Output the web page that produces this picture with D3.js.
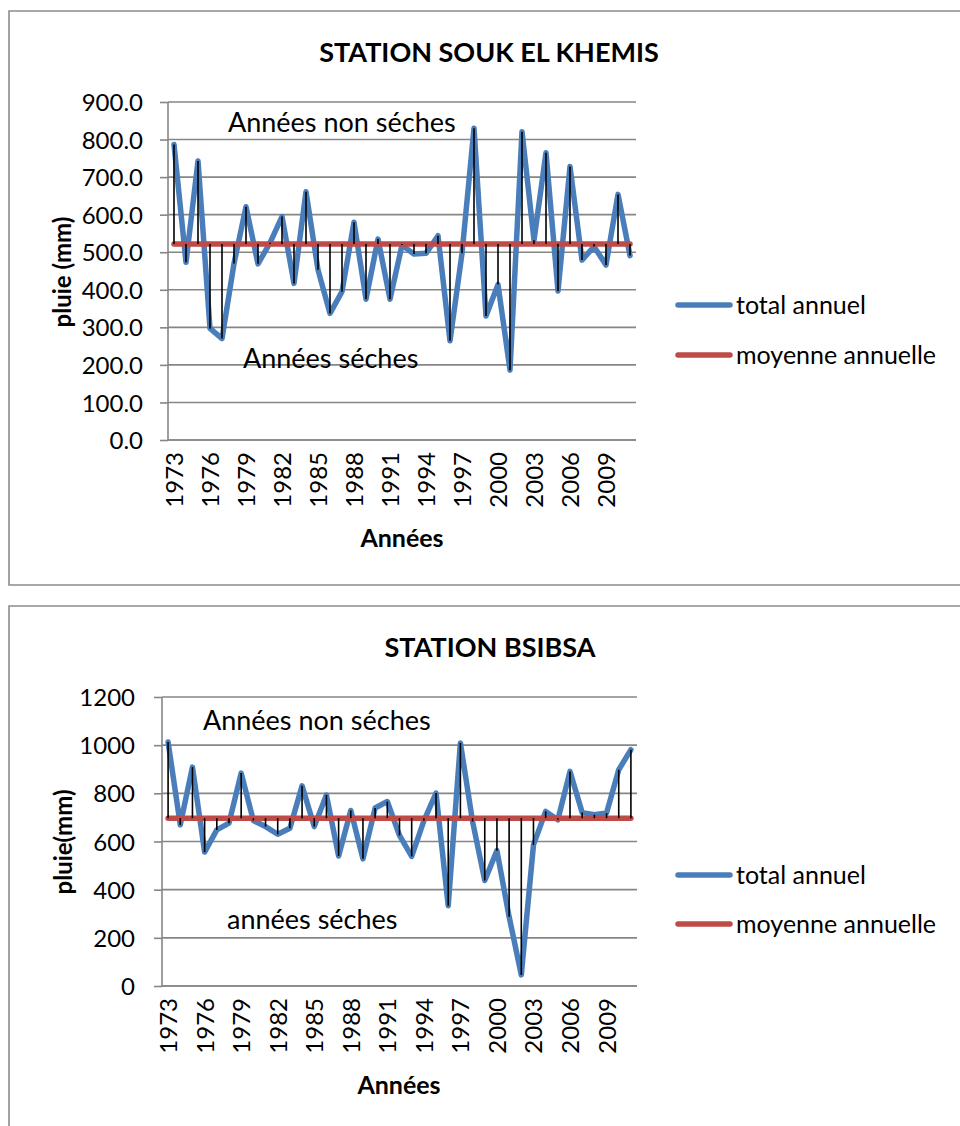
<!DOCTYPE html>
<html>
<head>
<meta charset="utf-8">
<script src="https://cdn.jsdelivr.net/npm/d3@7"></script>
<style>
  html, body { margin: 0; padding: 0; background: #fff; }
  svg { display: block; font-family: Lato, "Open Sans", sans-serif; }
</style>
</head>
<body>
<svg id="chart" width="960" height="1126"></svg>
<script>
// Years of record (hydrological years)
const years = [1973, 1974, 1975, 1976, 1977, 1978, 1979, 1980, 1981, 1982,
  1983, 1984, 1985, 1986, 1987, 1988, 1989, 1990, 1991, 1992,
  1993, 1994, 1995, 1996, 1997, 1998, 1999, 2000, 2001, 2002,
  2003, 2004, 2005, 2006, 2007, 2008, 2009, 2010, 2011];

// Years shown as axis labels
const yearTicks = [1973, 1976, 1979, 1982, 1985, 1988, 1991, 1994, 1997, 2000, 2003, 2006, 2009];

// Station Souk El Khemis: annual rainfall (mm) and mean
const soukTotal = [787, 473, 743, 297, 270, 470, 621, 469, 525, 595,
  417, 661, 453, 337, 395, 580, 375, 535, 375, 519,
  495, 497, 544, 264, 497, 830, 330, 414, 186, 821,
  532, 765, 397, 728, 479, 515, 466, 654, 491];
const soukMean = 522;
const soukTicks = [0, 100, 200, 300, 400, 500, 600, 700, 800, 900];

// Station Bsibsa: annual rainfall (mm) and mean
const bsibsaTotal = [1013, 669, 909, 556, 648, 676, 884, 687, 662, 630,
  655, 831, 662, 793, 540, 729, 528, 739, 766, 625,
  538, 686, 801, 333, 1009, 683, 438, 562, 288, 46,
  586, 725, 690, 891, 720, 711, 718, 898, 981];
const bsibsaMean = 697;
const bsibsaTicks = [0, 200, 400, 600, 800, 1000, 1200];

const seriesNames = ["total annuel", "moyenne annuelle"];

const BLUE = "#4A7EBB";
const RED = "#BE4B48";
const GRID = "#868686";
const FONT = "Lato, 'Open Sans', sans-serif";

const svg = d3.select("#chart");

function drawPanel(cfg) {
  const g = svg.append("g");

  // panel frame (open on the right)
  g.append("path")
    .attr("d", `M960,${cfg.frameTop}H${cfg.frameLeft}V${cfg.frameBottom}H960`)
    .attr("fill", "none").attr("stroke", "#8c8c8c").attr("stroke-width", 1.6);

  const x = d3.scaleBand().domain(years).range([cfg.left, cfg.right]).padding(0);
  const cx = d => x(d) + x.bandwidth() / 2;
  const y = d3.scaleLinear().domain([0, cfg.max]).range([cfg.bottom, cfg.top]);

  // horizontal gridlines
  g.append("g").selectAll("line").data(cfg.ticks).join("line")
    .attr("x1", cfg.left).attr("x2", cfg.right)
    .attr("y1", d => y(d)).attr("y2", d => y(d))
    .attr("stroke", GRID).attr("stroke-width", 1.6);

  // y axis
  const yAxis = d3.axisLeft(y).tickValues(cfg.ticks).tickFormat(cfg.fmt)
    .tickSize(8).tickPadding(cfg.yPad);
  const ya = g.append("g").attr("transform", `translate(${cfg.left},0)`).call(yAxis);
  ya.attr("font-family", FONT).attr("font-size", 24);
  ya.select(".domain").attr("stroke", GRID).attr("stroke-width", 1.6)
    .attr("d", `M0,${cfg.top}V${cfg.bottom}`);
  ya.selectAll(".tick line").attr("stroke", GRID).attr("stroke-width", 1.6);
  ya.selectAll(".tick text").attr("fill", "#000").attr("dy", "0.36em");

  // x axis
  const xAxis = d3.axisBottom(x).tickValues(yearTicks).tickSize(0).tickPadding(0);
  const xa = g.append("g").attr("transform", `translate(0,${cfg.bottom})`).call(xAxis);
  xa.attr("font-family", FONT).attr("font-size", 24);
  xa.select(".domain").attr("stroke", GRID).attr("stroke-width", 1.6)
    .attr("d", `M${cfg.left},0H${cfg.right}`);
  xa.selectAll(".tick text")
    .attr("fill", "#000")
    .attr("text-anchor", "end").attr("dy", null).attr("y", 0)
    .attr("transform", "translate(9,12) rotate(-90)");

  // annual total line
  const line = d3.line().x((d, i) => cx(years[i])).y(d => y(d));
  g.append("path").datum(cfg.total)
    .attr("d", line).attr("fill", "none")
    .attr("stroke", BLUE).attr("stroke-width", 5.5)
    .attr("stroke-linejoin", "round").attr("stroke-linecap", "round");

  // mean line
  g.append("path").datum(years.map(() => cfg.mean))
    .attr("d", line).attr("fill", "none")
    .attr("stroke", RED).attr("stroke-width", 5.5).attr("stroke-linecap", "round");

  // deviation drops between total and mean
  g.append("g").selectAll("line").data(cfg.total).join("line")
    .attr("x1", (d, i) => cx(years[i])).attr("x2", (d, i) => cx(years[i]))
    .attr("y1", d => y(d)).attr("y2", y(cfg.mean))
    .attr("stroke", "#000").attr("stroke-width", 1.6);

  const text = (sel) => sel.attr("font-family", FONT).attr("fill", "#000");

  // titles
  g.append("text").call(text).attr("x", cfg.titleX).attr("y", cfg.titleY)
    .attr("text-anchor", "middle").attr("font-weight", "bold").attr("font-size", 27)
    .text(cfg.title);
  g.append("text").call(text)
    .attr("transform", `translate(${cfg.yTitleX},${cfg.yTitleY}) rotate(-90)`)
    .attr("text-anchor", "middle").attr("font-weight", "bold").attr("font-size", 24)
    .text(cfg.yTitle);
  g.append("text").call(text).attr("x", cfg.xTitleX).attr("y", cfg.xTitleY)
    .attr("text-anchor", "middle").attr("font-weight", "bold").attr("font-size", 25)
    .text("Années");

  // annotations
  cfg.notes.forEach(n => {
    g.append("text").call(text).attr("x", n.x).attr("y", n.y)
      .attr("font-size", 27).text(n.text);
  });

  // legend
  [BLUE, RED].forEach((c, i) => {
    const ly = cfg.legendY + i * cfg.legendGap;
    g.append("line").attr("x1", 678).attr("x2", 730).attr("y1", ly).attr("y2", ly)
      .attr("stroke", c).attr("stroke-width", 5.5).attr("stroke-linecap", "round");
    g.append("text").call(text).attr("x", 736).attr("y", ly + 9).attr("font-size", 25)
      .text(seriesNames[i]);
  });
}

drawPanel({
  frameTop: 11, frameLeft: 9, frameBottom: 585,
  left: 168, right: 636, top: 102, bottom: 440, yPad: 17,
  max: 900, ticks: soukTicks, fmt: d3.format(".1f"),
  total: soukTotal, mean: soukMean,
  title: "STATION SOUK EL KHEMIS", titleX: 489, titleY: 62,
  yTitle: "pluie (mm)", yTitleX: 71, yTitleY: 272, xTitleX: 402, xTitleY: 547,
  notes: [{ x: 228, y: 132, text: "Années non séches" }, { x: 243, y: 368, text: "Années séches" }],
  legendY: 305, legendGap: 50
});

drawPanel({
  frameTop: 606, frameLeft: 9, frameBottom: 1140,
  left: 162, right: 637, top: 697, bottom: 986, yPad: 19,
  max: 1200, ticks: bsibsaTicks, fmt: d3.format("d"),
  total: bsibsaTotal, mean: bsibsaMean,
  title: "STATION BSIBSA", titleX: 490, titleY: 657,
  yTitle: "pluie(mm)", yTitleX: 72, yTitleY: 842, xTitleX: 399, xTitleY: 1094,
  notes: [{ x: 203, y: 730, text: "Années non séches" }, { x: 227, y: 929, text: "années séches" }],
  legendY: 875, legendGap: 49
});
</script>
</body>
</html>
